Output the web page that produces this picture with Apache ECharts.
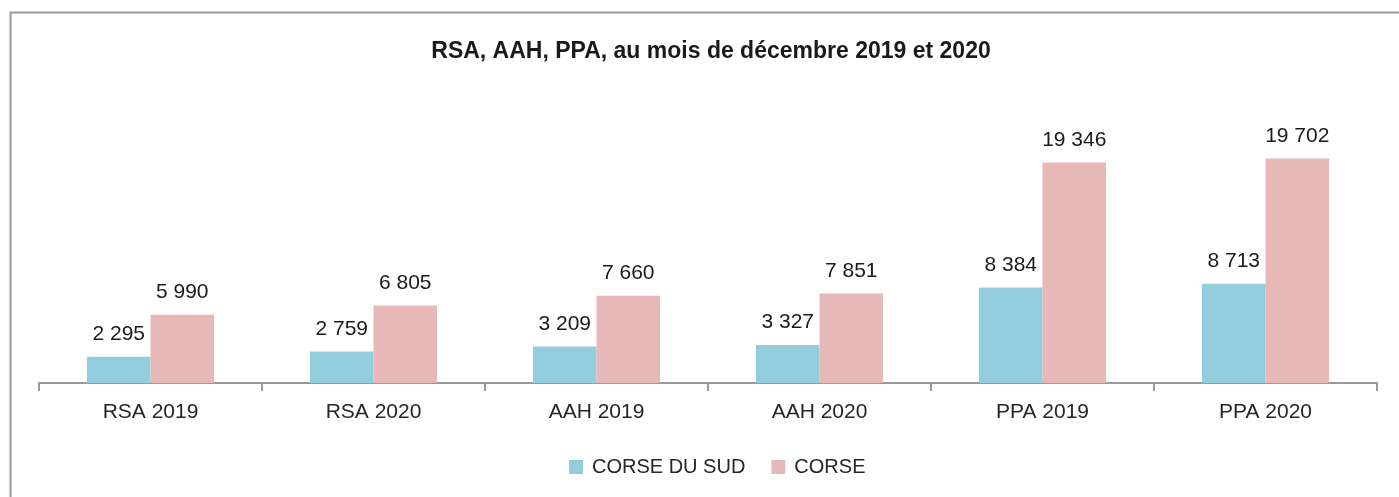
<!DOCTYPE html>
<html>
<head>
<meta charset="utf-8">
<script src="https://cdn.jsdelivr.net/npm/echarts@6/dist/echarts.min.js"></script>
<style>
  html, body { margin: 0; padding: 0; background: #fff; }
  #main { width: 1399px; height: 497px; }
</style>
</head>
<body>
<div id="main"></div>
<script>
// categories and values
var categories = ['RSA 2019', 'RSA 2020', 'AAH 2019', 'AAH 2020', 'PPA 2019', 'PPA 2020'];
var corseDuSud = [2295, 2759, 3209, 3327, 8384, 8713];
var corse = [5990, 6805, 7660, 7851, 19346, 19702];

var myChart = echarts.init(document.getElementById('main'));

// espace comme séparateur de milliers
function fmt(v) {
    return String(v).replace(/\B(?=(\d{3})+(?!\d))/g, ' ');
}

var fontName = 'Liberation Sans';

var option = {
    backgroundColor: '#fff',
    animation: false,
    title: {
        text: 'RSA, AAH, PPA, au mois de décembre 2019 et 2020',
        left: 706,
        textAlign: 'center',
        top: 35,
        textStyle: {
            fontFamily: fontName,
            fontSize: 23,
            fontWeight: 'bold',
            color: '#1a1a1a'
        }
    },
    legend: {
        bottom: 15,
        left: 564,
        itemWidth: 14,
        itemHeight: 14,
        itemGap: 26,
        icon: 'rect',
        textStyle: { fontFamily: fontName, fontSize: 20, color: '#262626', padding: [0, 0, 0, 4] },
        data: ['CORSE DU SUD', 'CORSE']
    },
    grid: { left: 39, right: 22, top: 98, bottom: 114 },
    xAxis: {
        type: 'category',
        data: categories,
        axisLine: { lineStyle: { color: '#999', width: 2 } },
        axisTick: { show: true, length: 8, lineStyle: { color: '#999', width: 2 } },
        axisLabel: { fontFamily: fontName, fontSize: 21, color: '#262626', margin: 19 }
    },
    yAxis: {
        type: 'value',
        min: 0,
        max: 25000,
        show: false,
        splitLine: { show: false }
    },
    series: [{
        name: 'CORSE DU SUD',
        type: 'bar',
        data: corseDuSud,
        barGap: '0%',
        barCategoryGap: '43%',
        itemStyle: { color: '#93CDDD' },
        label: {
            show: true, position: 'top', distance: 12,
            fontFamily: fontName, fontSize: 21, color: '#1a1a1a',
            formatter: function (p) { return fmt(p.value); }
        }
    }, {
        name: 'CORSE',
        type: 'bar',
        data: corse,
        itemStyle: { color: '#E6B8B7' },
        label: {
            show: true, position: 'top', distance: 12,
            fontFamily: fontName, fontSize: 21, color: '#1a1a1a',
            formatter: function (p) { return fmt(p.value); }
        }
    }],
    graphic: [{
        type: 'rect',
        shape: { x: 10.5, y: 12.5, width: 1500, height: 600 },
        style: { fill: 'none', stroke: '#9a9a9a', lineWidth: 2 },
        silent: true
    }]
};

myChart.setOption(option);
</script>
</body>
</html>
